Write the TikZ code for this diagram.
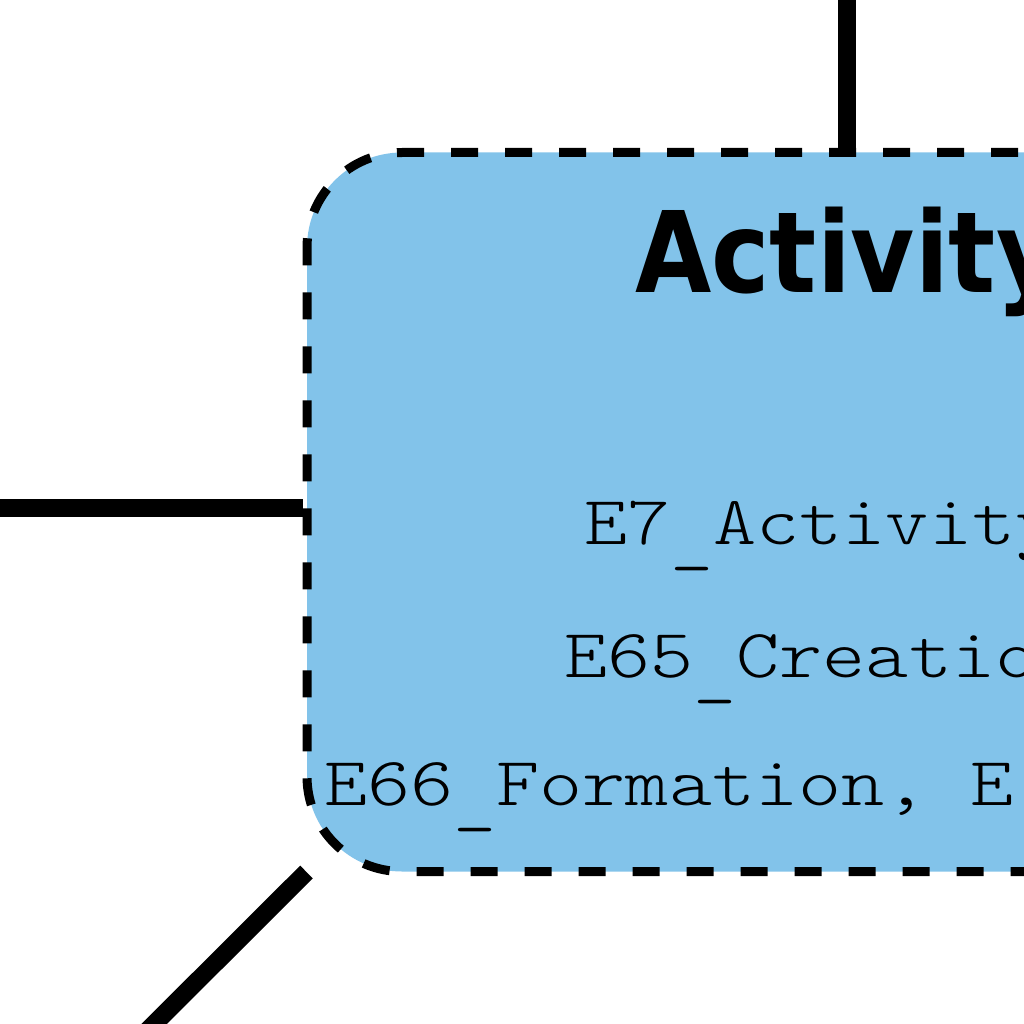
\documentclass[tikz,border=0pt]{standalone}
\usepackage{fontspec}
\newfontfamily\titlefont[FakeStretch=0.876]{DejaVu Sans Bold}
\newfontfamily\codefont[FakeStretch=1.19]{Latin Modern Mono Light}
\newcommand\lowus{\raisebox{-14pt}{\_}}
\definecolor{boxblue}{RGB}{130,195,234}
\tikzset{
  conn/.style={draw=black, line width=18pt},
  classbox/.style={draw=black, fill=boxblue, line width=9pt, dash pattern=on 27pt off 27pt,
    rounded corners=95pt, minimum width=1022pt, minimum height=719pt, inner sep=0pt},
  titletext/.style={inner sep=0pt, anchor=base west, font=\titlefont\fontsize{112.5}{112.5}\selectfont},
  codetext/.style={inner sep=0pt, anchor=base west, font=\codefont\fontsize{69}{69}\selectfont}
}
\begin{document}
\begin{tikzpicture}[x=1pt,y=-1pt]
\useasboundingbox (0,0) rectangle (1024,1024);
\clip (0,0) rectangle (1024,1024);
\coordinate (topend) at (847,-20);
\coordinate (leftend) at (-20,507.5);
\coordinate (diagend) at (120,1058);
\node[classbox] (activity) at (818,512) {};
\draw[conn] (topend) -- (847,148);
\draw[conn] (leftend) -- (303,507.5);
\draw[conn] (diagend) -- (306.5,872);
\node[titletext] (title) at (635,292) {Activity};
\node[codetext] (l1) at (584,544) {E7\lowus Activity};
\node[codetext] (l2) at (564,677) {E65\lowus Creation};
\node[codetext] (l3) at (324,805) {E66\lowus Formation, E};
\end{tikzpicture}
\end{document}
